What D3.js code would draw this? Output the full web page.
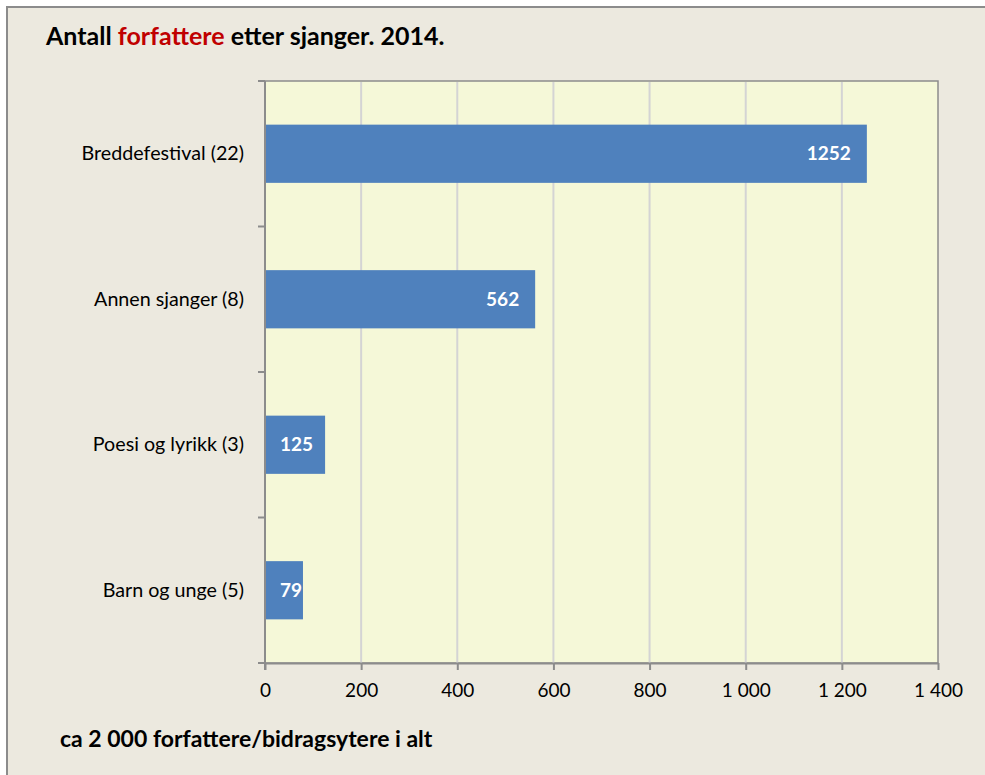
<!DOCTYPE html>
<html lang="no">
<head>
<meta charset="UTF-8">
<title>Antall forfattere etter sjanger. 2014.</title>
<style>
  body { margin: 0; background: #fff; }
  svg text { font-family: Lato, "Open Sans", sans-serif; }
</style>
</head>
<body>
<div id="chart"></div>
<script src="https://d3js.org/d3.v7.min.js"></script>
<script>
  // data
  const categories = ["Breddefestival (22)", "Annen sjanger (8)", "Poesi og lyrikk (3)", "Barn og unge (5)"];
  const values = [1252, 562, 125, 79];
  const xTicks = [0, 200, 400, 600, 800, 1000, 1200, 1400];

  const W = 985, H = 775;
  const plot = { left: 265, right: 938, top: 81, bottom: 663 };

  const svg = d3.select("#chart").append("svg")
    .attr("width", W)
    .attr("height", H);

  // outer chart box (runs off the page on the right and bottom)
  svg.append("rect")
    .attr("x", 7).attr("y", 7)
    .attr("width", 1000).attr("height", 800)
    .attr("fill", "#ECE9DF")
    .attr("stroke", "#8C8C8C")
    .attr("stroke-width", 2);

  const x = d3.scaleLinear()
    .domain([0, 1400])
    .range([plot.left, plot.right]);

  const y = d3.scaleBand()
    .domain(categories)
    .range([plot.top, plot.bottom])
    .padding(0);

  // plot area
  svg.append("rect")
    .attr("x", plot.left).attr("y", plot.top)
    .attr("width", plot.right - plot.left)
    .attr("height", plot.bottom - plot.top)
    .attr("fill", "#F5F8D8")
    .attr("stroke", "#8C8C8C")
    .attr("stroke-width", 1.5);

  // vertical gridlines
  svg.append("g")
    .selectAll("line")
    .data(xTicks.slice(1, -1))
    .join("line")
    .attr("x1", d => x(d)).attr("x2", d => x(d))
    .attr("y1", plot.top + 1).attr("y2", plot.bottom)
    .attr("stroke", "#D4D4D4")
    .attr("stroke-width", 2);

  // bars
  const barH = y.bandwidth() * 0.4;
  svg.append("g")
    .selectAll("rect")
    .data(categories)
    .join("rect")
    .attr("x", x(0))
    .attr("y", d => y(d) + (y.bandwidth() - barH) / 2)
    .attr("width", (d, i) => x(values[i]) - x(0))
    .attr("height", barH)
    .attr("fill", "#4F81BD");

  // value labels, inside end of each bar
  const lab = svg.append("g")
    .selectAll("text")
    .data(categories)
    .join("text")
    .attr("y", d => y(d) + y.bandwidth() / 2)
    .attr("dy", "0.35em")
    .attr("fill", "#fff")
    .attr("font-weight", "bold")
    .attr("font-size", "19px")
    .text((d, i) => values[i]);
  lab.attr("x", function (d, i) {
    const w = this.getComputedTextLength();
    return Math.max(x(values[i]) - 16 - w, x(0) + 15);
  });

  // x axis
  const nb = d3.formatLocale({ decimal: ",", thousands: " ", grouping: [3], currency: ["", " kr"] });
  const xAxis = svg.append("g")
    .attr("transform", `translate(0,${plot.bottom})`)
    .call(d3.axisBottom(x).tickValues(xTicks).tickFormat(nb.format(",d")).tickSize(7).tickSizeOuter(0));
  xAxis.select(".domain").attr("stroke", "#8C8C8C").attr("stroke-width", 2);
  xAxis.selectAll(".tick line").attr("stroke", "#8C8C8C").attr("stroke-width", 2);
  xAxis.selectAll(".tick text")
    .attr("y", 21)
    .attr("dy", "0.71em")
    .attr("fill", "#000")
    .attr("font-size", "19px")
    .style("font-family", "Lato, sans-serif");

  // y axis: labels at band centres, ticks at band edges
  const yAxis = svg.append("g")
    .attr("transform", `translate(${plot.left},0)`)
    .call(d3.axisLeft(y).tickSize(0).tickPadding(21));
  yAxis.select(".domain").remove();
  yAxis.selectAll(".tick text")
    .attr("fill", "#000")
    .attr("font-size", "19.7px")
    .style("font-family", "Lato, sans-serif");

  const edges = d3.range(categories.length + 1).map(i => plot.top + i * y.step());
  svg.append("g")
    .selectAll("line")
    .data(edges)
    .join("line")
    .attr("x1", plot.left - 7).attr("x2", plot.left)
    .attr("y1", d => d).attr("y2", d => d)
    .attr("stroke", "#8C8C8C")
    .attr("stroke-width", 2);
  svg.append("line")
    .attr("x1", plot.left).attr("x2", plot.left)
    .attr("y1", plot.top).attr("y2", plot.bottom + 7)
    .attr("stroke", "#8C8C8C")
    .attr("stroke-width", 2);

  // title
  const title = svg.append("text")
    .attr("x", 46).attr("y", 45)
    .attr("font-size", "25px")
    .attr("font-weight", "bold")
    .attr("fill", "#000");
  title.append("tspan").text("Antall ");
  title.append("tspan").attr("fill", "#C00000").text("forfattere");
  title.append("tspan").text(" etter sjanger. 2014.");

  // footer note
  svg.append("text")
    .attr("x", 60).attr("y", 747)
    .attr("font-size", "23px")
    .attr("font-weight", "bold")
    .attr("fill", "#000")
    .text("ca 2 000 forfattere/bidragsytere i alt");
</script>
</body>
</html>
